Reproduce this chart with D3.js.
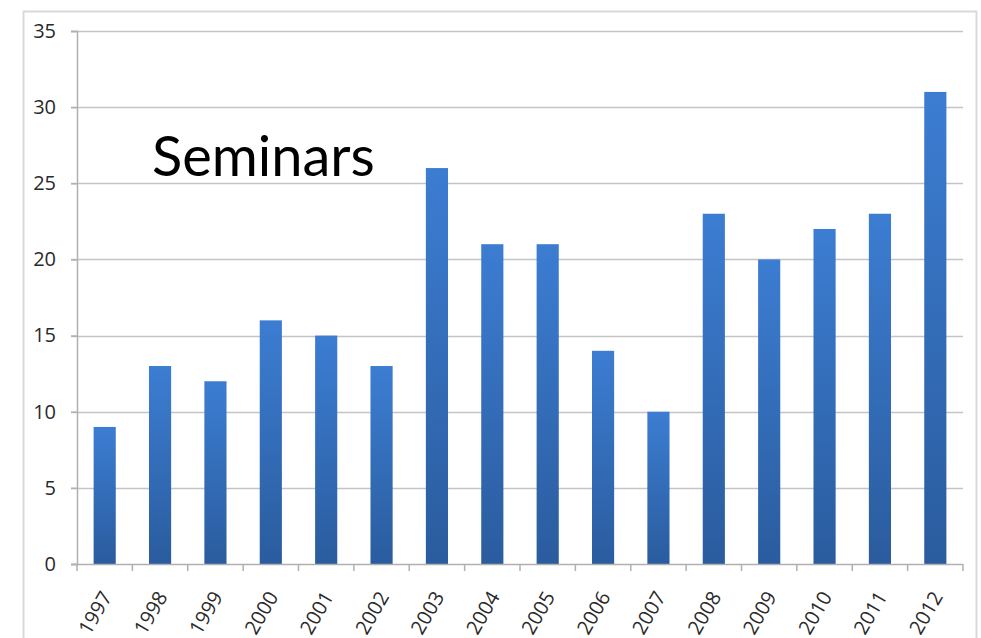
<!DOCTYPE html>
<html>
<head>
<meta charset="utf-8">
<script src="https://cdn.jsdelivr.net/npm/d3@7"></script>
<style>
  body { margin: 0; background: #fff; }
  svg { display: block; }
</style>
</head>
<body>
<svg id="chart" width="981" height="638"></svg>
<script>
// Seminars per year
const years = ['1997', '1998', '1999', '2000', '2001', '2002', '2003', '2004',
  '2005', '2006', '2007', '2008', '2009', '2010', '2011', '2012'];
const seminars = [9, 13, 12, 16, 15, 13, 26, 21, 21, 14, 10, 23, 20, 22, 23, 31];
const yTicks = [0, 5, 10, 15, 20, 25, 30, 35];

const data = years.map((y, i) => ({ year: y, value: seminars[i] }));

const svg = d3.select('#chart');
const labelFont = "'Open Sans', 'Liberation Sans', sans-serif";

// outer chart frame
svg.append('rect')
  .attr('x', 23.5).attr('y', 11.5)
  .attr('width', 953).attr('height', 640)
  .attr('fill', 'none')
  .attr('stroke', '#d9d9d9')
  .attr('stroke-width', 2);

const plotLeft = 77, plotRight = 963, plotTop = 31, plotBottom = 564;

const x = d3.scaleBand()
  .domain(years)
  .range([plotLeft, plotRight])
  .paddingInner(0.6)
  .paddingOuter(0.3);

const y = d3.scaleLinear()
  .domain([0, 35])
  .range([plotBottom, plotTop]);

const defs = svg.append('defs');
const grad = defs.append('linearGradient')
  .attr('id', 'barGrad')
  .attr('x1', 0).attr('y1', 0).attr('x2', 0).attr('y2', 1);
grad.append('stop').attr('offset', '0%').attr('stop-color', '#3c7dd2');
grad.append('stop').attr('offset', '100%').attr('stop-color', '#2a5c9e');

// gridlines
svg.append('g')
  .selectAll('line')
  .data(yTicks.filter(d => d > 0))
  .join('line')
  .attr('x1', plotLeft - 6).attr('x2', plotRight)
  .attr('y1', d => Math.round(y(d)) + 0.5)
  .attr('y2', d => Math.round(y(d)) + 0.5)
  .attr('stroke', '#c4c4c4')
  .attr('stroke-width', 1.5);

// y axis
const yAxis = svg.append('g')
  .attr('transform', `translate(${plotLeft},0)`)
  .call(d3.axisLeft(y).tickValues(yTicks).tickSize(6).tickPadding(15));
yAxis.selectAll('.domain, line').attr('stroke', '#b0b0b0').attr('stroke-width', 1.5);
yAxis.selectAll('text')
  .attr('font-family', labelFont)
  .attr('font-size', 20)
  .attr('fill', '#2a2a2a');

// bars
svg.append('g')
  .selectAll('rect')
  .data(data)
  .join('rect')
  .attr('x', d => x(d.year))
  .attr('y', d => y(d.value))
  .attr('width', x.bandwidth())
  .attr('height', d => y(0) - y(d.value))
  .attr('fill', 'url(#barGrad)');

// x axis with ticks at category boundaries
const xAxisG = svg.append('g')
  .attr('transform', `translate(0,${plotBottom})`);
xAxisG.append('line')
  .attr('x1', plotLeft - 6).attr('x2', plotRight)
  .attr('y1', 0.5).attr('y2', 0.5)
  .attr('stroke', '#b0b0b0').attr('stroke-width', 1.5);
xAxisG.selectAll('.bound')
  .data(d3.range(years.length + 1))
  .join('line')
  .attr('class', 'bound')
  .attr('x1', i => plotLeft + i * (plotRight - plotLeft) / years.length)
  .attr('x2', i => plotLeft + i * (plotRight - plotLeft) / years.length)
  .attr('y1', 0).attr('y2', 7)
  .attr('stroke', '#b0b0b0').attr('stroke-width', 1.5);

xAxisG.selectAll('.lbl')
  .data(data)
  .join('text')
  .attr('class', 'lbl')
  .attr('transform', d => `translate(${x(d.year) + x.bandwidth() / 2 + 2},${29}) rotate(-60)`)
  .attr('text-anchor', 'end')
  .attr('dy', '0.35em')
  .attr('font-family', labelFont)
  .attr('font-size', 20)
  .attr('fill', '#2a2a2a')
  .text(d => d.year);

// title inside plot
svg.append('text')
  .attr('x', 152)
  .attr('y', 176)
  .attr('font-family', "Lato, 'Open Sans', sans-serif")
  .attr('font-size', 56)
  .attr('fill', '#000')
  .text('Seminars');
</script>
</body>
</html>
